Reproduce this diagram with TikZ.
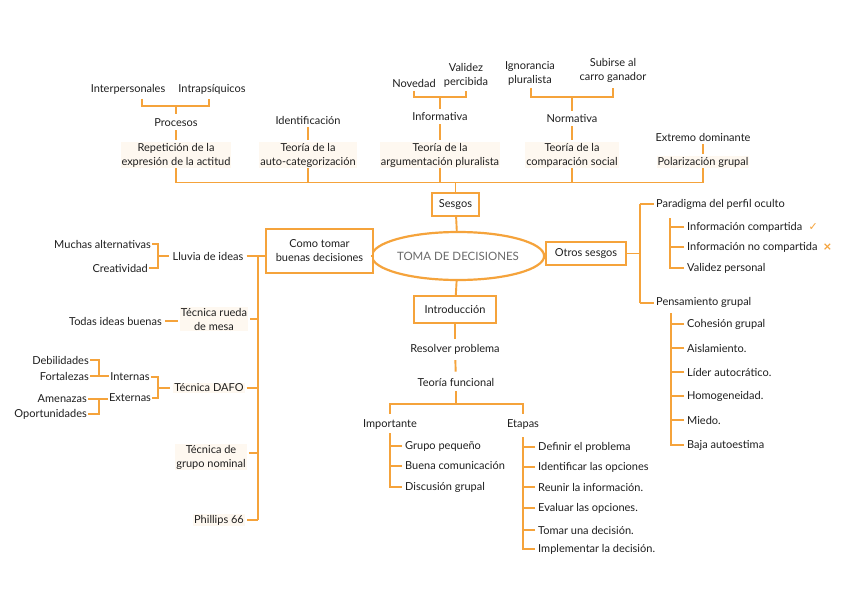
\documentclass[tikz,border=0pt]{standalone}
\usepackage{fontspec}
\setmainfont{Lato}
\newfontfamily\djv{DejaVu Sans}
\usetikzlibrary{shapes.geometric,calc}
\definecolor{org}{HTML}{F5A33B}
\definecolor{hl}{HTML}{FEF8F0}
\definecolor{maintxt}{HTML}{6A6A6A}
\begin{document}
\begin{tikzpicture}[x=1pt,y=-1pt,
  ln/.style={draw=org,line width=1.9pt},
  t/.style={font=\fontsize{11}{14}\selectfont,inner sep=1pt,align=center,text=black!88},
  th/.style={t,fill=hl},
  bx/.style={draw=org,line width=2.2pt,fill=white,inner sep=2pt,font=\fontsize{11}{14}\selectfont,align=center,text=black!88},
]
\useasboundingbox[fill=white] (0,0) rectangle (848,599);

% ---------- top ----------
\node[t] (inter) at (128,89) {Interpersonales};
\node[t] (intra) at (212,89) {Intrapsíquicos};
\node[t] (proc) at (176,123) {Procesos};
\node[th] (rep) at (176,155) {Repetición de la\\expresión de la actitud};
\node[t] (ident) at (308,120) {Identificación};
\node[th] (auto) at (308,155) {Teoría de la\\auto-categorización};
\node[t] (nov) at (414,83) {Novedad};
\node[t] (val) at (466,75) {Validez\\percibida};
\node[t] (info) at (440,117) {Informativa};
\node[th] (arg) at (440,155) {Teoría de la\\argumentación pluralista};
\node[t] (ign) at (530,73) {Ignorancia\\pluralista};
\node[t] (sub) at (613,70) {Subirse al\\carro ganador};
\node[t] (norm) at (572,119) {Normativa};
\node[th] (comp) at (572,155) {Teoría de la\\comparación social};
\node[t] (ext) at (703,137) {Extremo dominante};
\node[th] (pol) at (703,162) {Polarización grupal};

\coordinate (pj) at (176,106);
\draw[ln] (142,99) |- (pj) -| (209,99);
\draw[ln,shorten >=4pt] (pj) -- (proc);
\coordinate (ij) at (440,97);
\draw[ln] (414,91) |- (ij) -| (466,91);
\draw[ln,shorten >=3pt] (ij) -- (info);
\coordinate (nj) at (572,97);
\draw[ln] (531,88) |- (nj) -| (613,88);
\draw[ln,shorten >=3pt] (nj) -- (norm);

\draw[ln,shorten <=2pt,shorten >=2pt] (proc) -- (rep);
\draw[ln,shorten <=2pt,shorten >=2pt] (ident) -- (auto);
\draw[ln,shorten <=2pt,shorten >=2pt] (info) -- (arg);
\draw[ln,shorten <=2pt,shorten >=2pt] (norm) -- (comp);
\draw[ln,shorten <=2pt,shorten >=2pt] (ext) -- (pol);

% ---------- center ----------
\node[bx,minimum width=47,minimum height=23] (ses) at (455.5,204.5) {Sesgos};
\node[draw=org,line width=2.2pt,ellipse,fill=white,minimum width=147,minimum height=48,inner sep=0pt,
      font=\fontsize{11.5}{13}\selectfont,text=maintxt] (main) at (458,256) {TOMA DE DECISIONES};
\node[bx,minimum width=107,minimum height=44] (como) at (319.5,251) {Como tomar\\buenas decisiones};
\node[bx,minimum width=80,minimum height=23] (otros) at (586,253.5) {Otros sesgos};
\node[bx,minimum width=82,minimum height=27] (intro) at (455,309.5) {Introducción};

\coordinate (busL) at (176,182.5);
\coordinate (busR) at (703,182.5);
\draw[ln] (rep) -- (busL) -- (busR) -- (pol);
\draw[ln] (auto) -- (auto |- busL);
\draw[ln] (arg) -- (arg |- busL);
\draw[ln] (comp) -- (comp |- busL);
\draw[ln] (ses) -- (ses |- busL);
\draw[ln] (ses) -- (main);
\draw[ln] (main) -- (intro);
\draw[ln] (main.west) -- (main.west -| como.east);
\draw[ln] (main.east) -- (main.east -| otros.west);

% ---------- left ----------
\coordinate (lb1) at (258,256);
\coordinate (lb2) at (258,520);
\draw[ln] (como.west |- lb1) -- (lb1) -- (lb2);

\node[t] (lluvia) at (208,256) {Lluvia de ideas};
\node[th] (rueda) at (214,319) {Técnica rueda\\de mesa};
\node[th] (dafo) at (209,388) {Técnica DAFO};
\node[th] (nom) at (211,457) {Técnica de\\grupo nominal};
\node[th] (phil) at (219,520) {Phillips 66};
\draw[ln,shorten <=2pt] (lluvia.east) -- (lluvia.east -| lb1);
\draw[ln,shorten <=2pt] (rueda.east) -- (rueda.east -| lb1);
\draw[ln,shorten <=2pt] (dafo.east) -- (dafo.east -| lb1);
\draw[ln,shorten <=2pt] ([yshift=4pt]nom.east) -- ([yshift=4pt]nom.east -| lb1);
\draw[ln,shorten <=2pt] (phil.east) -- (lb2);

\node[t,anchor=east] (much) at (152,244) {Muchas alternativas};
\node[t,anchor=east] (crea) at (149,268) {Creatividad};
\coordinate (lj) at (158,256);
\draw[ln] (much.east) -| (lj) |- (crea.east);
\draw[ln,shorten >=3pt] (lj) -- (lluvia);

\node[t,anchor=east] (todas) at (163,321) {Todas ideas buenas};
\draw[ln,shorten <=2pt,shorten >=2pt] (todas.east) -- (rueda.west |- todas.east);

\node[t] (intn) at (130,377) {Internas};
\node[t] (extn) at (130,398) {Externas};
\coordinate (dj) at (158,388);
\draw[ln] (intn.east) -| (dj) |- (extn.east);
\draw[ln,shorten >=3pt] (dj) -- (dafo);

\node[t,anchor=east] (deb) at (90,360) {Debilidades};
\node[t,anchor=east] (fort) at (90,376) {Fortalezas};
\coordinate (fj) at (99,376);
\draw[ln] (deb.east) -| (fj) -- (fort.east);
\draw[ln] (fj) -- (intn.west |- fj);

\node[t,anchor=east] (ame) at (88,399) {Amenazas};
\node[t,anchor=east] (opo) at (88,414) {Oportunidades};
\coordinate (aj) at (99,399);
\draw[ln] (ame.east) -- (aj) -- (extn.west |- aj);
\draw[ln] (aj) |- (opo.east);

% ---------- right ----------
\coordinate (rb1) at (640,204);
\coordinate (rb2) at (640,303);
\draw[ln] (otros.east) -- (otros.east -| rb1);
\draw[ln] (rb1) -- (rb2);
\node[t,anchor=west] (par) at (655,204) {Paradigma del perfil oculto};
\node[t,anchor=west] (pen) at (655,302) {Pensamiento grupal};
\draw[ln,shorten >=1pt] (rb1) -- (par.west);
\draw[ln,shorten >=1pt] (rb2) -- (pen.west |- rb2);

\node[t,anchor=west] (ic) at (686,227) {Información compartida};
\node[t,anchor=west] (inc) at (686,247) {Información no compartida};
\node[t,anchor=west] (vp) at (686,268) {Validez personal};
\node[anchor=west,text=org,inner sep=0pt,font=\djv\bfseries\fontsize{11}{12}\selectfont] (chk) at ([xshift=5pt]ic.east) {✓};
\node[anchor=west,text=org,inner sep=0pt,font=\djv\bfseries\fontsize{11}{12}\selectfont] (crs) at ([xshift=4pt]inc.east) {×};
\coordinate (ps) at (670,218);
\draw[ln,shorten >=2pt] (ps) |- (vp.west);
\draw[ln,shorten <=2pt] (ic.west) -- (ic.west -| ps);
\draw[ln,shorten <=2pt] (inc.west) -- (inc.west -| ps);

\node[t,anchor=west] (coh) at (686,324) {Cohesión grupal};
\node[t,anchor=west] (ais) at (686,348) {Aislamiento.};
\node[t,anchor=west] (lid) at (686,372) {Líder autocrático.};
\node[t,anchor=west] (hom) at (686,396) {Homogeneidad.};
\node[t,anchor=west] (mie) at (686,420) {Miedo.};
\node[t,anchor=west] (baj) at (686,445) {Baja autoestima};
\coordinate (gs) at (671,313);
\draw[ln,shorten >=2pt] (gs) |- (baj.west);
\foreach \n in {coh,ais,lid,hom,mie}
  \draw[ln,shorten <=2pt] (\n.west) -- (\n.west -| gs);

% ---------- bottom ----------
\node[t] (res) at (455,349) {Resolver problema};
\node[t] (teo) at (456,382) {Teoría funcional};
\draw[ln,shorten >=4pt] (intro) -- (res);
\draw[ln,shorten <=5pt,shorten >=5pt] (res) -- (teo);
\coordinate (tj) at (456,404);
\draw[ln,shorten <=4pt] (teo) -- (tj);
\node[t] (imp) at (390,424) {Importante};
\node[t] (eta) at (523,424) {Etapas};
\draw[ln,shorten <=4pt,shorten >=4pt] (imp) |- (tj) -| (eta);

\node[t,anchor=west] (gp) at (404,446) {Grupo pequeño};
\node[t,anchor=west] (bc) at (404,466) {Buena comunicación};
\node[t,anchor=west] (dg) at (404,487) {Discusión grupal};
\coordinate (is) at (390,433);
\draw[ln,shorten >=2pt] (is) |- (dg.west);
\foreach \n in {gp,bc}
  \draw[ln,shorten <=2pt] (\n.west) -- (\n.west -| is);

\node[t,anchor=west] (e1) at (537,447) {Definir el problema};
\node[t,anchor=west] (e2) at (537,467) {Identificar las opciones};
\node[t,anchor=west] (e3) at (537,487) {Reunir la información.};
\node[t,anchor=west] (e4) at (537,508) {Evaluar las opciones.};
\node[t,anchor=west] (e5) at (537,530) {Tomar una decisión.};
\node[t,anchor=west] (e6) at (537,549) {Implementar la decisión.};
\coordinate (es) at (523,437);
\draw[ln,shorten >=2pt] (es) |- (e6.west);
\foreach \n in {e1,e2,e3,e4,e5}
  \draw[ln,shorten <=2pt] (\n.west) -- (\n.west -| es);
\end{tikzpicture}
\end{document}
